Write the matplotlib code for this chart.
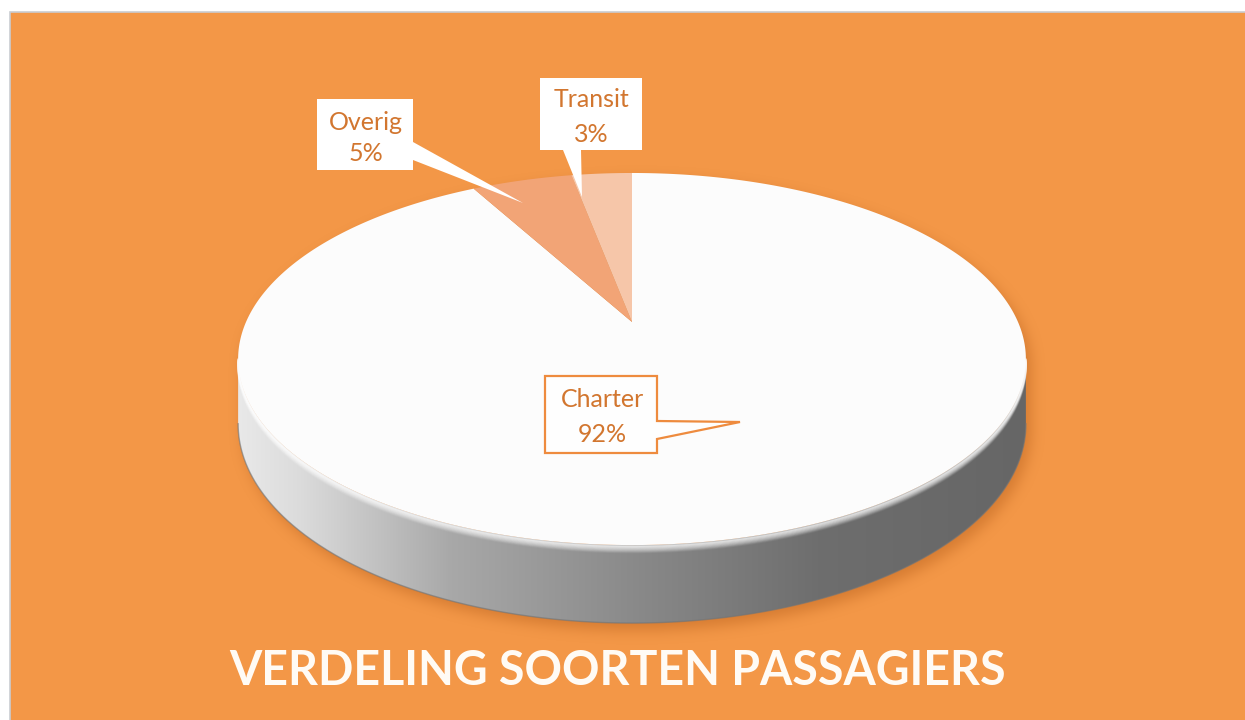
import numpy as np
import matplotlib.pyplot as plt
from matplotlib.patches import Polygon, Rectangle
from matplotlib.path import Path

W, H = 1245, 720

labels = ["Charter", "Overig", "Transit"]
shares = [92, 5, 3]
slice_colors = ["#FCFCFC", "#F2A476", "#F6C6A9"]
title = "VERDELING SOORTEN PASSAGIERS"

orange = "#F39747"
text_orange = "#D2762F"

# pie geometry in pixels (perspective disc)
cx, cy = 632, 322
R = 386
c_p = 0.199
a_p = -114.6
depth = 62.5


def project(theta, drop=0.0):
    # theta runs clockwise from 12 o'clock
    x = np.sin(theta)
    z = np.cos(theta)
    s = 1 + c_p * z
    return cx + R * x / s, (a_p * z + cy) / s + drop / s


fig = plt.figure(figsize=(W / 100, H / 100), dpi=100)
fig.patch.set_facecolor("white")
ax = fig.add_axes([0, 0, 1, 1])
ax.set_xlim(0, W)
ax.set_ylim(H, 0)
ax.axis("off")

ax.add_patch(Rectangle((10, 12), W, H, facecolor=orange, edgecolor="#C9CDD2", lw=1.2, zorder=0))

# outlines
th = np.linspace(0, 2 * np.pi, 2000)
tx, ty = project(th)
th_r = th[np.argmax(tx)]
th_l = th[np.argmin(tx)]
front = np.linspace(th_r, th_l, 500)
fx, fy = project(front)
bx, by = project(front, depth)
wall_xy = np.column_stack([np.r_[fx, bx[::-1]], np.r_[fy, by[::-1]]])
top_xy = np.column_stack([tx, ty])

# soft shadow under the disc
gx, gy = np.meshgrid(np.arange(W) + 0.5, np.arange(H) + 0.5)
pts = np.column_stack([gx.ravel(), gy.ravel()])
shift = np.array([5, 7])
mask = Path(top_xy + shift).contains_points(pts) | Path(wall_xy + shift).contains_points(pts)
mask = mask.reshape(H, W).astype(float)


def box_blur(a, r):
    k = 2 * r + 1
    p = np.pad(a, ((r + 1, r), (0, 0)), mode="edge")
    cs = np.cumsum(p, axis=0)
    a = (cs[k:] - cs[:-k]) / k
    p = np.pad(a, ((0, 0), (r + 1, r)), mode="edge")
    cs = np.cumsum(p, axis=1)
    return (cs[:, k:] - cs[:, :-k]) / k


for _ in range(3):
    mask = box_blur(mask, 6)
shadow = np.zeros((H, W, 4))
shadow[..., 0] = 0.70
shadow[..., 1] = 0.36
shadow[..., 2] = 0.10
shadow[..., 3] = mask * 0.45
ax.imshow(shadow, extent=(0, W, H, 0), aspect="auto", zorder=1, interpolation="bilinear")

# side wall with horizontal gradient
wall = Polygon(wall_xy, closed=True, facecolor="none", edgecolor="none", zorder=2)
ax.add_patch(wall)
gxs = np.arange(W)
stops_x = [230, 300, 450, 650, 820, 1030]
stops_v = [0.92, 0.86, 0.66, 0.53, 0.43, 0.40]
v = np.interp(gxs, stops_x, stops_v)
grad = np.repeat(v[None, :, None], 3, axis=2)
img = ax.imshow(grad, extent=(0, W, H, 0), aspect="auto", zorder=2)
img.set_clip_path(wall)
ax.plot(bx, by, color="#6F7478", lw=1.0, alpha=0.6, zorder=3)

# top face slices
bounds = np.r_[0, np.cumsum(shares)] / sum(shares) * 2 * np.pi
for i, (lab, col) in enumerate(zip(labels, slice_colors)):
    t = np.linspace(bounds[i], bounds[i + 1], 400)
    sx, sy = project(t)
    poly = np.column_stack([np.r_[cx, sx], np.r_[cy, sy]])
    ax.add_patch(Polygon(poly, closed=True, facecolor=col, edgecolor="none", zorder=4))

# rim bevel
for k in range(1, 9):
    ax.plot(fx, fy + k * 0.9, color="white", lw=1.6, alpha=0.55 * (1 - k / 9), zorder=3.5)

# callouts
ax.add_patch(Polygon([(317, 99), (413, 99), (413, 142), (523, 203), (413, 160), (413, 170), (317, 170)],
                     closed=True, facecolor="white", edgecolor="none", zorder=5))
ax.add_patch(Polygon([(540, 78), (642, 78), (642, 150), (581, 150), (582, 197), (563, 150), (540, 150)],
                     closed=True, facecolor="white", edgecolor="none", zorder=5))
ax.add_patch(Polygon([(545, 376), (657, 376), (657, 421), (740, 422), (657, 439), (657, 453), (545, 453)],
                     closed=True, facecolor="#FEFEFE", edgecolor="#EE8B3E", lw=1.6, zorder=5))

lab_pos = {"Charter": (602, 407, 442), "Overig": (366, 130, 161), "Transit": (591, 107, 142)}
for lab, val in zip(labels, shares):
    x, y1, y2 = lab_pos[lab]
    ax.text(x, y1, lab, ha="center", va="baseline", fontsize=18, family="Lato",
            color=text_orange, zorder=6)
    ax.text(x, y2, f"{val}%", ha="center", va="baseline", fontsize=18, family="Lato",
            color=text_orange, zorder=6)

ax.text(618, 685, title, ha="center", va="baseline", fontsize=33.5, family="Lato",
        fontweight="bold", color="#FFFBF5", zorder=6)

fig.savefig("out.png", dpi=100, facecolor=fig.get_facecolor())
